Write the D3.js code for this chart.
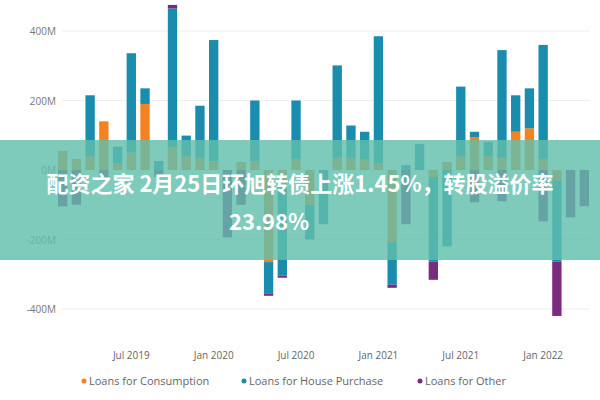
<!DOCTYPE html><html><head><meta charset="utf-8"><script src="https://cdn.jsdelivr.net/npm/d3@7"></script>
<style>body{margin:0;background:#fff}svg{font-family:"Segoe UI","Open Sans",sans-serif}</style></head><body><svg id="c" width="600" height="400"></svg>
<script>
const months=["2019-02","2019-03","2019-04","2019-05","2019-06","2019-07","2019-08","2019-09","2019-10","2019-11","2019-12","2020-01","2020-02","2020-03","2020-04","2020-05","2020-06","2020-07","2020-08","2020-09","2020-10","2020-11","2020-12","2021-01","2021-02","2021-03","2021-04","2021-05","2021-06","2021-07","2021-08","2021-09","2021-10","2021-11","2021-12","2022-01","2022-02","2022-03","2022-04"];
const consumption=[55,32,40,140,20,50,190,0,65,40,35,25,0,23,25,-265,-40,30,-100,0,35,35,30,20,-208,0,0,-20,23,40,95,40,35,110,120,30,-30,0,0];
const housePurchase=[0,0,175,0,47,286,45,26,400,59,150,349,0,0,175,-90,-264,170,-100,-156,266,93,80,365,-122,14,75,-244,-220,200,15,41,310,105,115,330,-234,0,0];
const other=[-105,-100,0,-30,0,0,0,-20,10,0,0,0,-194,-100,0,-7,-6,0,0,0,0,0,0,0,-9,-156,0,-52,0,0,-93,0,-90,0,0,-148,-156,-136,-104];
const yTicks=[400,200,0,-200,-400];
const xTickMonths=["2019-07","2020-01","2020-07","2021-01","2021-07","2022-01"];
const seriesNames=["Loans for Consumption","Loans for House Purchase","Loans for Other"];
const colors=["#F5821F","#1A8DAE","#7A2B80"];
const svg=d3.select("#c");
const x=d3.scaleBand().domain(months).range([58,589]).paddingInner(0.32);
const y=d3.scaleLinear().domain([-400,400]).range([309,31]);
svg.append("g").selectAll("line").data(yTicks).join("line").attr("x1",62).attr("x2",590).attr("y1",d=>y(d)).attr("y2",d=>y(d)).attr("stroke","#eee");
svg.append("g").selectAll("text").data(yTicks).join("text").attr("x",56).attr("y",d=>y(d)+4).attr("text-anchor","end").attr("font-size",10).attr("fill","#777").text(d=>d+"M");
const series=[consumption,housePurchase,other];
months.forEach((m,i)=>{let pos=0,neg=0;series.forEach((s,k)=>{const v=s[i];if(!v)return;let y0,y1;if(v>0){y0=pos;y1=pos+v;pos=y1;}else{y0=neg;y1=neg+v;neg=y1;}
svg.append("rect").attr("x",x(m)).attr("width",x.bandwidth()).attr("y",y(Math.max(y0,y1))).attr("height",Math.abs(y(y0)-y(y1))).attr("fill",colors[k]);});});
const fmt=d3.timeFormat("%b %Y"),parse=d3.timeParse("%Y-%m");
svg.append("g").selectAll("text").data(xTickMonths).join("text").attr("x",d=>x(d)+x.bandwidth()/2).attr("y",359).attr("text-anchor","middle").attr("font-size",10).attr("fill","#666").text(d=>fmt(parse(d)));
const lx=[80,240,416];
seriesNames.forEach((n,k)=>{svg.append("circle").attr("cx",lx[k]+4).attr("cy",381).attr("r",2.5).attr("fill",colors[k]);svg.append("text").attr("x",lx[k]+9).attr("y",385).attr("font-size",11).attr("fill","#666").text(n);});
svg.append("rect").attr("x",0).attr("y",140).attr("width",600).attr("height",120).attr("fill","rgba(98,190,172,0.82)");
svg.append("text").attr("x",300).attr("y",192).attr("text-anchor","middle").attr("font-size",22).attr("font-weight","bold").attr("fill","#fff").attr("font-family","Noto Sans CJK SC").text("配资之家 2月25日环旭转债上涨1.45%，转股溢价率");
svg.append("text").attr("x",229).attr("y",230).attr("font-size",22).attr("font-weight","bold").attr("fill","#fff").attr("font-family","Noto Sans CJK SC").text("23.98%");
</script></body></html>
